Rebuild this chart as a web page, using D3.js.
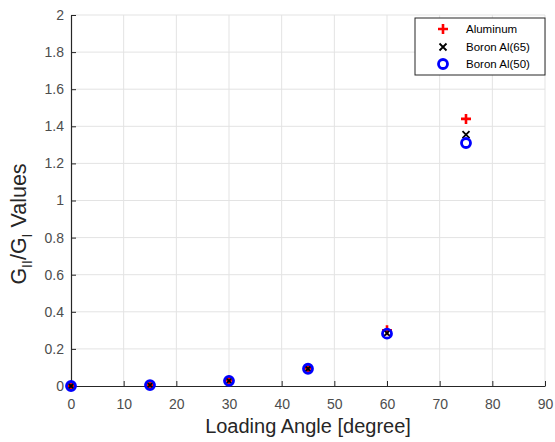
<!DOCTYPE html>
<html><head><meta charset="utf-8">
<script src="https://cdn.jsdelivr.net/npm/d3@7"></script>
<style>body{margin:0;background:#fff;} svg{display:block;font-family:Arial,"Liberation Sans",sans-serif;}</style>
</head><body>
<svg id="c" width="555" height="442"></svg>
<script>
const angles = [0, 15, 30, 45, 60, 75];
const aluminum = [0, 0.005, 0.03, 0.095, 0.3, 1.44];
const boron65 = [0, 0.005, 0.028, 0.093, 0.285, 1.355];
const boron50 = [0, 0.005, 0.028, 0.093, 0.282, 1.31];
const xTicks = [0,10,20,30,40,50,60,70,80,90];
const yTicks = [0,0.2,0.4,0.6,0.8,1,1.2,1.4,1.6,1.8,2];
const seriesNames = ["Aluminum","Boron Al(65)","Boron Al(50)"];

const svg = d3.select("#c");
const m = {l:71, r:545, t:15, b:386};
const x = d3.scaleLinear().domain([0,90]).range([m.l, m.r]);
const y = d3.scaleLinear().domain([0,2]).range([m.b, m.t]);
const axisCol = "#262626", tickCol = "#4d4d4d", gridCol = "#e3e3e3";

// grid
svg.append("g").selectAll("line").data(xTicks.slice(1)).join("line")
  .attr("x1",d=>x(d)).attr("x2",d=>x(d)).attr("y1",m.t).attr("y2",m.b)
  .attr("stroke",gridCol).attr("stroke-width",1);
svg.append("g").selectAll("line").data(yTicks.slice(1)).join("line")
  .attr("x1",m.l).attr("x2",m.r).attr("y1",d=>y(d)).attr("y2",d=>y(d))
  .attr("stroke",gridCol).attr("stroke-width",1);

// axes
const xa = svg.append("g").attr("transform",`translate(0,${m.b})`)
  .call(d3.axisBottom(x).tickValues(xTicks).tickSizeInner(-5).tickSizeOuter(0).tickPadding(13).tickFormat(d3.format("d")));
const ya = svg.append("g").attr("transform",`translate(${m.l},0)`)
  .call(d3.axisLeft(y).tickValues(yTicks).tickSizeInner(-5).tickSizeOuter(0).tickPadding(7).tickFormat(d=>d===0?"0":d3.format("")(d)));
[xa,ya].forEach(a=>{
  a.select(".domain").attr("stroke",axisCol).attr("stroke-width",1.2);
  a.selectAll(".tick line").attr("stroke",axisCol);
  a.selectAll("text").attr("fill",tickCol).attr("font-size",14).attr("font-family","Arial,'Liberation Sans',sans-serif");
});

// labels
svg.append("text").attr("x",308).attr("y",433).attr("text-anchor","middle")
  .attr("font-size",20).attr("fill",axisCol).text("Loading Angle [degree]");
const yl = svg.append("text").attr("transform",`translate(26,${224}) rotate(-90)`)
  .attr("text-anchor","middle").attr("font-size",21.5).attr("fill",axisCol);
yl.append("tspan").text("G");
yl.append("tspan").attr("font-size",14).attr("dy",6).text("II");
yl.append("tspan").attr("dy",-6).text("/G");
yl.append("tspan").attr("font-size",14).attr("dy",6).text("I");
yl.append("tspan").attr("dy",-6).text(" Values");

// markers
function drawPlus(g, cx, cy){ g.append("path").attr("d",`M${cx-5},${cy}H${cx+5}M${cx},${cy-5}V${cy+5}`).attr("stroke","#ff0000").attr("stroke-width",2.6).attr("fill","none"); }
function drawX(g, cx, cy){ g.append("path").attr("d",`M${cx-3.5},${cy-3.5}L${cx+3.5},${cy+3.5}M${cx-3.5},${cy+3.5}L${cx+3.5},${cy-3.5}`).attr("stroke","#000").attr("stroke-width",1.8).attr("fill","none"); }
function drawO(g, cx, cy){ g.append("circle").attr("cx",cx).attr("cy",cy).attr("r",4.5).attr("stroke","#0000ff").attr("stroke-width",2.8).attr("fill","none"); }

const pts = svg.append("g");
angles.forEach((a,i)=>drawPlus(pts, x(a), y(aluminum[i])));
angles.forEach((a,i)=>drawX(pts, x(a), y(boron65[i])));
angles.forEach((a,i)=>drawO(pts, x(a), y(boron50[i])));

// legend
const lg = svg.append("g");
lg.append("rect").attr("x",415).attr("y",18).attr("width",130).attr("height",57)
  .attr("fill","#fff").attr("stroke","#262626").attr("stroke-width",1);
const drawers = [drawPlus, drawX, drawO];
const ly = [29, 47, 64];
seriesNames.forEach((n,i)=>{
  drawers[i](lg, 443, ly[i]);
  lg.append("text").attr("x",466).attr("y",ly[i]+4).attr("font-size",11.5).attr("fill","#000").text(n);
});
</script>
</body></html>
